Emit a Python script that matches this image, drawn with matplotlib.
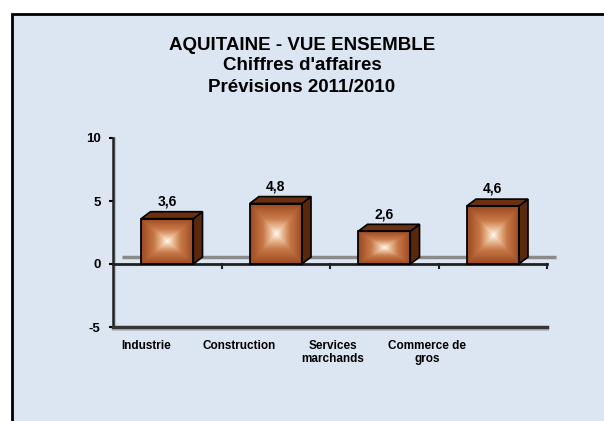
import numpy as np
import matplotlib.pyplot as plt
from matplotlib.patches import Rectangle, Polygon
from matplotlib.colors import LinearSegmentedColormap

plt.rcParams['font.family'] = ['Liberation Sans', 'DejaVu Sans']
plt.rcParams['font.weight'] = 'bold'

categories = ["Industrie", "Construction", "Services\nmarchands", "Commerce de\ngros"]
values = [3.6, 4.8, 2.6, 4.6]
value_labels = ["3,6", "4,8", "2,6", "4,6"]
y_ticks = [-5, 0, 5, 10]

bg = "#dce6f2"
fig = plt.figure(figsize=(6.04, 4.21), dpi=100)
fig.patch.set_facecolor("white")

# outer frame (clipped at right and bottom like the original)
frame = Rectangle((12 / 604, -0.1), 1.0, 1 - 14 / 421 + 0.1,
                  transform=fig.transFigure, facecolor=bg,
                  edgecolor="black", linewidth=2, zorder=-10)
fig.patches.append(frame)

fig.text(0.5, 1 - 45 / 421, "AQUITAINE - VUE ENSEMBLE", ha="center", va="center",
         fontsize=13.5, fontweight="bold")
fig.text(0.5, 1 - 66 / 421, "Chiffres d'affaires", ha="center", va="center",
         fontsize=13.5, fontweight="bold")
fig.text(0.5, 1 - 88 / 421, "Prévisions 2011/2010", ha="center", va="center",
         fontsize=13.5, fontweight="bold")

ax = fig.add_axes([113 / 604, (421 - 327) / 421, 434 / 604, (327 - 138) / 421])
ax.set_zorder(5)
ax.set_xlim(0, 4)
ax.set_ylim(-5, 10)
ax.patch.set_alpha(0)
for s in ax.spines.values():
    s.set_visible(False)
ax.set_xticks([])
ax.set_yticks(y_ticks)
ax.set_yticklabels([str(t) for t in y_ticks], fontsize=9.5, fontweight="bold")
ax.tick_params(axis="y", length=3, width=1.5, pad=6)

dx, dy = 0.085, 0.55
bw = 0.48

# back floor line
ax.plot([dx, 4 + dx], [dy, dy], color="#8a8a8a", lw=2.5, zorder=1, solid_capstyle="butt",
        clip_on=False)

# axes lines with light shadow
ax.plot([0.02, 0.02], [-5.2, 10], color="#b8bec8", lw=1.5, zorder=1, clip_on=False)
ax.plot([0, 0], [-5, 10], color="#202020", lw=1.8, zorder=2, clip_on=False)
ax.plot([0, 4.01], [-5.22, -5.22], color="#b8bec8", lw=1.5, zorder=1, clip_on=False)
ax.plot([0, 4.0], [-5, -5], color="#353535", lw=2.5, zorder=2, clip_on=False)
ax.plot([0, 4.0], [0, 0], color="#202020", lw=2, zorder=2, clip_on=False)
for i in range(1, 5):
    ax.plot([i, i], [0, -0.35], color="#202020", lw=1.5, zorder=2, clip_on=False)

cmap = LinearSegmentedColormap.from_list(
    "box", [(0, "#fffaf4"), (0.18, "#efc6a4"), (0.5, "#c97a48"), (1, "#9a4820")])
n = 120
u = np.linspace(-1, 1, n)
U, V = np.meshgrid(u, u)

for i, v in enumerate(values):
    x0 = i + 0.5 - bw / 2
    x1 = x0 + bw
    W = np.maximum(np.abs(U), np.abs(V))
    ax.imshow(W, cmap=cmap, extent=[x0, x1, 0, v], aspect="auto",
              interpolation="bilinear", zorder=3, vmin=0, vmax=1)
    ax.add_patch(Rectangle((x0, 0), bw, v, facecolor="none", edgecolor="black",
                           lw=1.3, zorder=5))
    ax.add_patch(Polygon([(x1, 0), (x1 + dx, dy), (x1 + dx, v + dy), (x1, v)],
                         closed=True, facecolor="#5a280c", edgecolor="black",
                         lw=1.2, zorder=4))
    ax.add_patch(Polygon([(x0, v), (x1, v), (x1 + dx, v + dy), (x0 + dx, v + dy)],
                         closed=True, facecolor="#6a3010", edgecolor="black",
                         lw=1.2, zorder=4))
    ax.text(i + 0.5, v + dy + 0.25, value_labels[i], ha="center", va="bottom",
            fontsize=10, fontweight="bold", zorder=6)

label_x = [0.076, 0.290, 0.507, 0.724]
for lx, c in zip(label_x, categories):
    ax.text(lx, -0.07, c, transform=ax.transAxes, ha="center", va="top",
            fontsize=8.5, fontweight="bold", linespacing=1.1)

fig.savefig("out.png", dpi=100, facecolor=fig.get_facecolor())
